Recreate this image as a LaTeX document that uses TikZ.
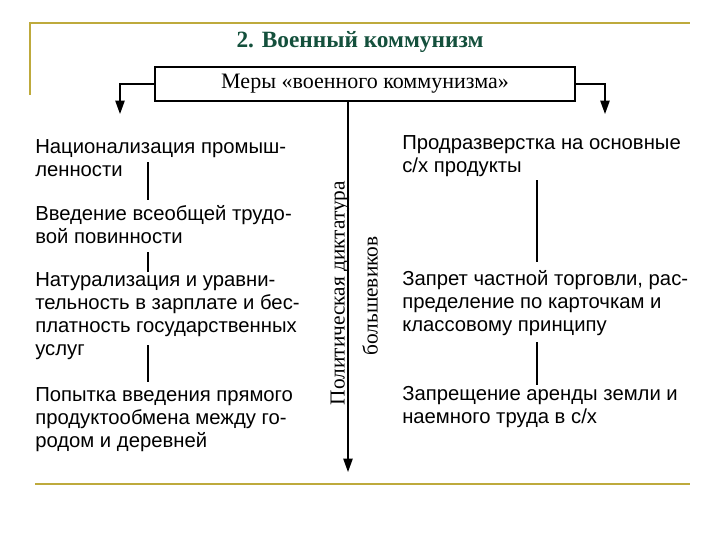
\documentclass[tikz,border=0pt]{standalone}
\usepackage{fontspec}
\setmainfont{Liberation Serif}
\newfontfamily\sansf{Liberation Sans}
\usetikzlibrary{arrows.meta}
\definecolor{gold}{RGB}{190,170,60}
\definecolor{tgreen}{RGB}{20,80,60}
\begin{document}
\begin{tikzpicture}[x=0.75pt,y=-0.75pt,
  item/.style={anchor=north west,align=left,inner sep=0,font=\sansf\fontsize{15.2}{17.4}\selectfont},
  conn/.style={line width=1pt},
  arr/.style={conn,-{Triangle[length=10pt,width=7pt]}}]
\useasboundingbox (0,0) rectangle (720,540);
\draw[gold,line width=1.5pt] (30,95) -- (30,23) -- (690,23);
\draw[gold,line width=1.5pt] (35,484) -- (690,484);
\node (title) at (360,42) {\fontsize{17.5}{20}\selectfont\bfseries\color{tgreen}2. Военный коммунизм};
\node[draw,line width=1.1pt,minimum width=315pt,minimum height=25.5pt,inner sep=0] (box) at (365,84) {\fontsize{16.5}{18}\selectfont Меры «военного коммунизма»};
\coordinate (la) at (120,114);
\coordinate (ra) at (605,114);
\coordinate (ca) at (348,472);
\draw[arr] (box.west) -| (la);
\draw[arr] (box.east) -| (ra);
\draw[arr] (box.south -| ca) -- (ca);
\node[rotate=90,font=\fontsize{16}{18}\selectfont] (pd) at (340,293) {Политическая диктатура};
\node[rotate=90,font=\fontsize{16}{18}\selectfont] (bol) at (370,296) {большевиков};
\node[item] (l1) at (35,139) {Национализация промыш-\\ленности};
\node[item] (l2) at (35,205) {Введение всеобщей трудо-\\вой повинности};
\node[item] (l3) at (35,272) {Натурализация и уравни-\\тельность в зарплате и бес-\\платность государственных\\услуг};
\node[item] (l4) at (35,387) {Попытка введения прямого\\продуктообмена между го-\\родом и деревней};
\node[item] (r1) at (402,135) {Продразверстка на основные\\с/х продукты};
\node[item] (r2) at (402,270) {Запрет частной торговли, рас-\\пределение по карточкам и\\классовому принципу};
\node[item] (r3) at (402,386) {Запрещение аренды земли и\\наемного труда в с/х};
\draw[conn] (148,162) -- (148,200);
\draw[conn] (148,252) -- (148,272);
\draw[conn] (148,345) -- (148,382);
\draw[conn] (537,180) -- (537,262);
\draw[conn] (537,342) -- (537,385);
\end{tikzpicture}
\end{document}
